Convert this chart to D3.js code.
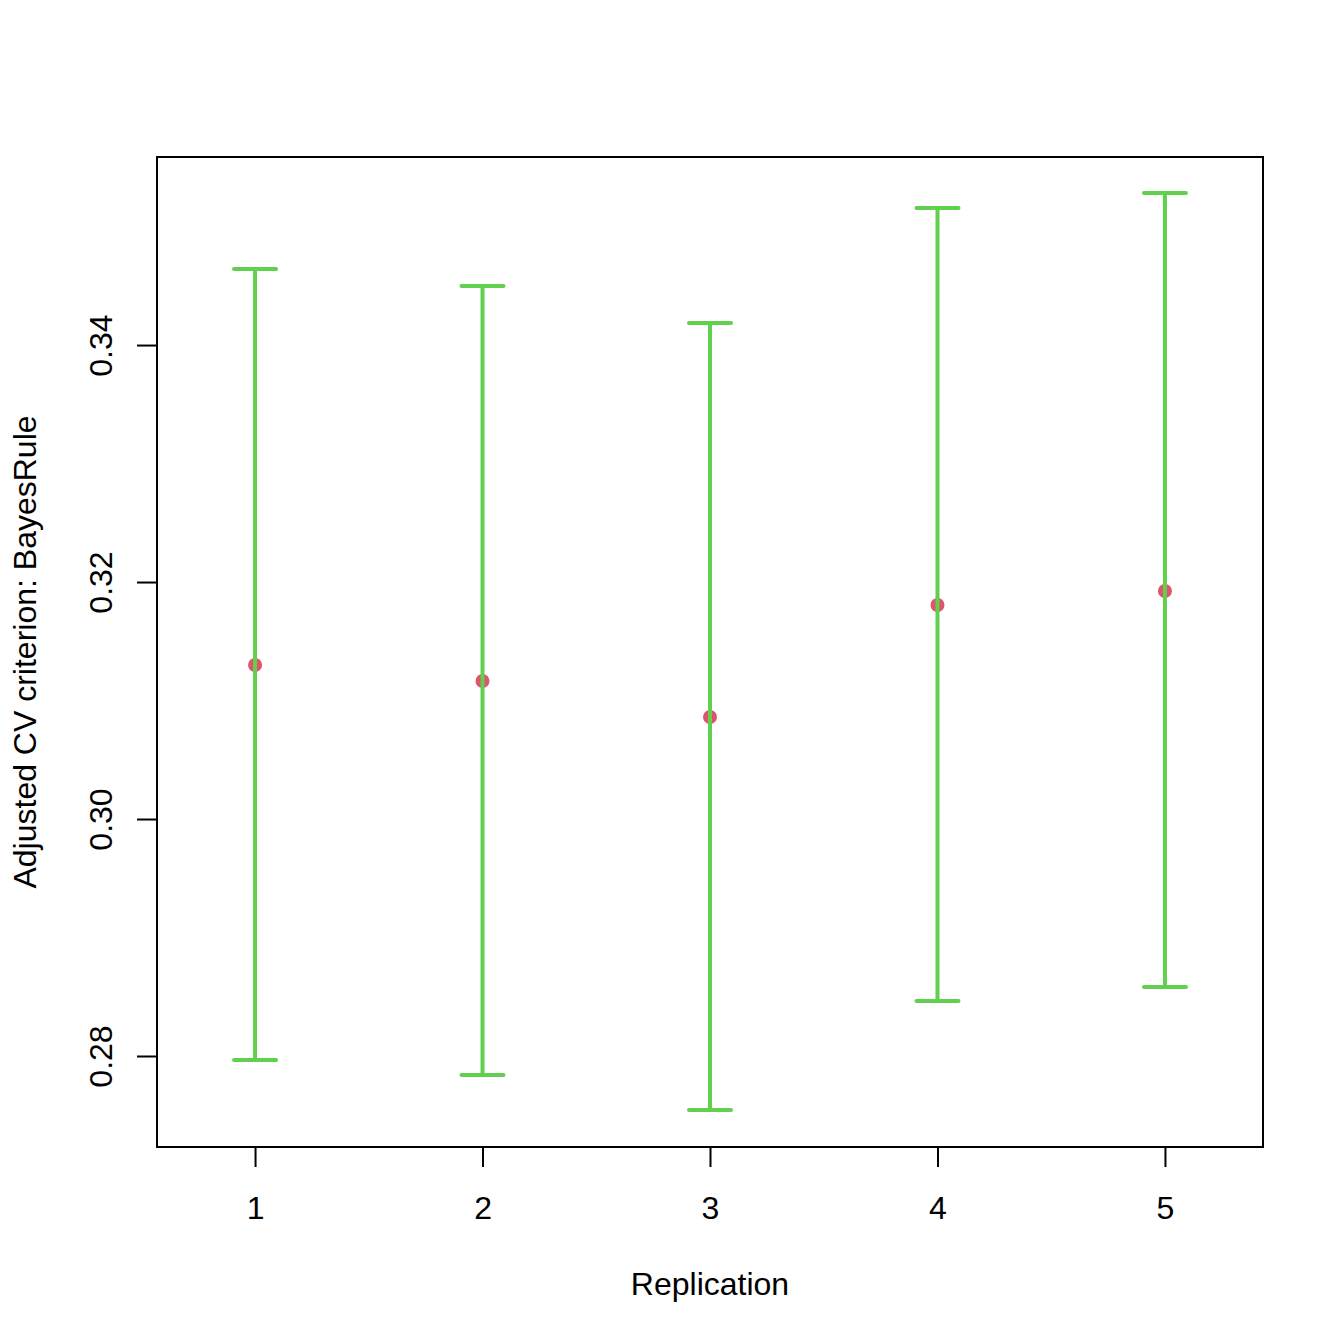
<!DOCTYPE html>
<html>
<head>
<meta charset="UTF-8">
<title>Adjusted CV criterion</title>
<script src="https://cdn.jsdelivr.net/npm/d3@7"></script>
<style>
  * { margin: 0; padding: 0; }
  body { background: #fff; }
  text { font-family: "Liberation Sans", Arial, sans-serif; fill: #000; }
</style>
</head>
<body>
<div id="chart"></div>
<script>
// data
var replications = [1, 2, 3, 4, 5];
var means = [0.3130, 0.31165, 0.30861, 0.31806, 0.31924];
var upper = [0.34641, 0.34498, 0.34186, 0.35156, 0.35283];
var lower = [0.27966, 0.27840, 0.27544, 0.28464, 0.28582];
var yTicks = [0.28, 0.30, 0.32, 0.34];

var w = 1344, h = 1344;
var mLeft = 157, mRight = 1263, mTop = 157, mBottom = 1147;
var fontSize = "32px";

var x = d3.scaleLinear().domain([0.569, 5.431]).range([mLeft, mRight]);
var y = d3.scaleLinear().domain([0.27232, 0.35587]).range([mBottom, mTop]);

var svg = d3.select("#chart").append("svg")
  .attr("width", w).attr("height", h);

// error bars
var bars = svg.append("g").selectAll("g")
  .data(replications)
  .enter().append("g");

bars.append("circle")
  .attr("cx", function(d) { return x(d); })
  .attr("cy", function(d, i) { return y(means[i]); })
  .attr("r", 7)
  .attr("fill", "#DF536B");

bars.append("line")
  .attr("x1", function(d) { return x(d); })
  .attr("x2", function(d) { return x(d); })
  .attr("y1", function(d, i) { return y(lower[i]); })
  .attr("y2", function(d, i) { return y(upper[i]); })
  .attr("stroke", "#61D04F").attr("stroke-width", 4);

[upper, lower].forEach(function(arr) {
  bars.append("line")
    .attr("x1", function(d) { return x(d) - 21; })
    .attr("x2", function(d) { return x(d) + 21; })
    .attr("y1", function(d, i) { return y(arr[i]); })
    .attr("y2", function(d, i) { return y(arr[i]); })
    .attr("stroke", "#61D04F").attr("stroke-width", 4)
    .attr("stroke-linecap", "round");
});

// frame
svg.append("rect")
  .attr("x", mLeft).attr("y", mTop)
  .attr("width", mRight - mLeft).attr("height", mBottom - mTop)
  .attr("fill", "none").attr("stroke", "#000").attr("stroke-width", 2);

// x axis
var xAxis = d3.axisBottom(x).tickValues(replications).tickSize(20).tickPadding(29)
  .tickFormat(d3.format("d"));
var gx = svg.append("g").attr("transform", "translate(0," + mBottom + ")").call(xAxis);
gx.select(".domain")
  .attr("d", "M" + x(1) + ",0H" + x(5));

// y axis
var yAxis = d3.axisLeft(y).tickValues(yTicks).tickSize(20)
  .tickFormat(d3.format(".2f"));
var gy = svg.append("g").attr("transform", "translate(" + mLeft + ",0)").call(yAxis);
gy.select(".domain")
  .attr("d", "M0," + y(yTicks[0]) + "V" + y(yTicks[yTicks.length - 1]));
gy.selectAll(".tick text")
  .attr("x", 0).attr("dy", 0)
  .attr("text-anchor", "middle")
  .attr("transform", "translate(-45,0) rotate(-90)");

[gx, gy].forEach(function(g) {
  g.selectAll("path, line").attr("stroke", "#000").attr("stroke-width", 2);
  g.selectAll("text").style("font-size", fontSize).attr("fill", "#000")
    .style("font-family", "'Liberation Sans', Arial, sans-serif");
});

// axis titles
svg.append("text")
  .attr("x", (mLeft + mRight) / 2).attr("y", 1295)
  .attr("text-anchor", "middle").style("font-size", fontSize)
  .text("Replication");

svg.append("text")
  .attr("transform", "translate(36," + (mTop + mBottom) / 2 + ") rotate(-90)")
  .attr("text-anchor", "middle").style("font-size", fontSize)
  .text("Adjusted CV criterion: BayesRule");
</script>
</body>
</html>
